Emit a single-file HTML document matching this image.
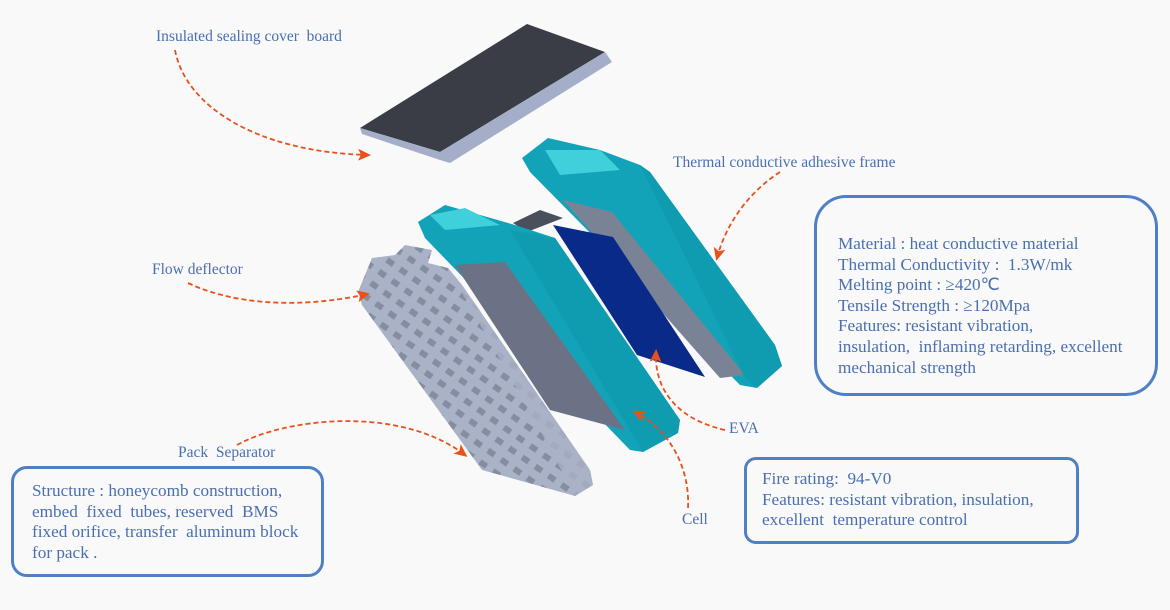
<!DOCTYPE html>
<html><head><meta charset="utf-8"><style>
html,body{margin:0;padding:0;background:#f9f9fa;}
.wrap{position:relative;width:1170px;height:610px;overflow:hidden;font-family:"Liberation Serif",serif;color:#4a6fb0;}
.t{position:absolute;font-size:15.5px;white-space:nowrap;}
.box{position:absolute;border:3px solid #4f7fc4;box-sizing:border-box;font-size:17.2px;line-height:20.6px;color:#4a6fb0;white-space:nowrap;}
svg{position:absolute;left:0;top:0;}
</style></head><body><div class="wrap">
<svg width="1170" height="610" viewBox="0 0 1170 610">
<defs>
<marker id="a" markerWidth="13" markerHeight="12" refX="10" refY="6" orient="auto" markerUnits="userSpaceOnUse"><path d="M0,0 L13,6 L0,12 L3,6 Z" fill="#e8501c"/></marker>
<pattern id="grid" width="16" height="14" patternUnits="userSpaceOnUse" patternTransform="rotate(35)"><rect width="16" height="14" fill="#aab2c7"/><rect x="2" y="2" width="8" height="6" fill="#858da1"/></pattern>
</defs>
<polygon points="360,128 527,24 605,52 440,152" fill="#3a3d45"/>
<polygon points="440,152 605,52 612,62 450,163 440,160 362,134 360,128" fill="#a5aec8"/>
<polygon points="522,158 548,138 600,150 640,165 650,172 775,345 782,366 757,388 740,385 530,172" fill="#12a3b8"/>
<polygon points="563,200 612,212 745,375 720,378" fill="#7a8296"/>
<polygon points="640,165 650,172 775,345 782,366 757,388 745,378" fill="#0f9cb0"/>
<polygon points="545,150 600,150 620,170 560,175" fill="#3fd0dc"/>
<polygon points="553,225 613,237 705,377 637,355" fill="#0a2a8a"/>
<polygon points="513,223 540,210 563,218 527,232" fill="#4a4f5c"/>
<polygon points="418,222 445,205 515,225 555,238 680,420 678,433 643,452 630,450 425,238" fill="#12a3b8"/>
<polygon points="455,265 505,262 625,430 550,410" fill="#6c7285"/>
<polygon points="510,230 555,238 680,420 678,433 643,452" fill="#0f9cb0"/>
<polygon points="430,215 465,208 500,225 445,230" fill="#3fd0dc"/>
<polygon points="358,292 372,258 395,255 405,245 432,250 428,263 448,268 462,285 590,470 593,485 575,496 482,470 362,305" fill="url(#grid)"/>
<polygon points="448,268 462,285 590,470 593,485 575,496 540,430" fill="#aab2c7" opacity="0.8"/>
<g fill="none" stroke="#e8501c" stroke-width="1.8" stroke-dasharray="5,3">
<path d="M175,50 C185,105 255,152 368,155" marker-end="url(#a)"/>
<path d="M188,283 C245,310 320,305 367,294" marker-end="url(#a)"/>
<path d="M237,445 C285,418 400,405 465,455" marker-end="url(#a)"/>
<path d="M780,172 C752,190 727,220 717,258" marker-end="url(#a)"/>
<path d="M725,430 C680,420 654,392 656,352" marker-end="url(#a)"/>
<path d="M688,508 C690,468 670,430 635,412" marker-end="url(#a)"/>
</g>
</svg>
<div class="t" style="left:156px;top:28px">Insulated sealing cover&nbsp; board</div>
<div class="t" style="left:673px;top:154px">Thermal conductive adhesive frame</div>
<div class="t" style="left:152px;top:261px">Flow deflector</div>
<div class="t" style="left:178px;top:444px">Pack&nbsp; Separator</div>
<div class="t" style="left:729px;top:420px">EVA</div>
<div class="t" style="left:682px;top:511px">Cell</div>
<div class="box" style="left:814px;top:195px;width:344px;height:201px;border-radius:32px;padding:36px 0 0 21px">Material : heat conductive material<br>Thermal Conductivity :&nbsp; 1.3W/mk<br>Melting point : ≥420℃<br>Tensile Strength : ≥120Mpa<br>Features: resistant vibration,<br>insulation,&nbsp; inflaming retarding, excellent<br>mechanical strength</div>
<div class="box" style="left:744px;top:457px;width:335px;height:87px;border-radius:12px;padding:9px 0 0 15px">Fire rating:&nbsp; 94-V0<br>Features: resistant vibration, insulation,<br>excellent&nbsp; temperature control</div>
<div class="box" style="left:11px;top:466px;width:313px;height:111px;border-radius:16px;padding:12px 0 0 18px">Structure : honeycomb construction,<br>embed&nbsp; fixed&nbsp; tubes, reserved&nbsp; BMS<br>fixed orifice, transfer&nbsp; aluminum block<br>for pack .</div>
</div></body></html>
